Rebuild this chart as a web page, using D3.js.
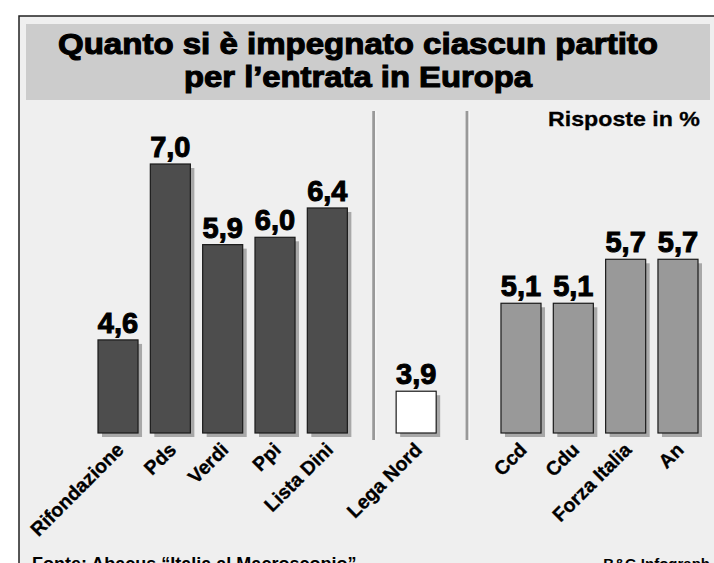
<!DOCTYPE html>
<html>
<head>
<meta charset="utf-8">
<script src="https://cdn.jsdelivr.net/npm/d3@7"></script>
<style>
  body { margin: 0; background: #fff; }
  svg text { font-family: "Liberation Sans", Arial, sans-serif; font-weight: bold; fill: #000; }
</style>
</head>
<body>
<div id="chart"></div>
<script>
// Data
var parties = ["Rifondazione", "Pds", "Verdi", "Ppi", "Lista Dini", "Lega Nord", "Ccd", "Cdu", "Forza Italia", "An"];
var values = [4.6, 7.0, 5.9, 6.0, 6.4, 3.9, 5.1, 5.1, 5.7, 5.7];
var partyGroup = ["sinistra", "sinistra", "sinistra", "sinistra", "sinistra", "lega", "destra", "destra", "destra", "destra"];
var groupNames = ["sinistra", "lega", "destra"];
var groupColors = ["#4d4d4d", "#ffffff", "#999999"];

var titleLines = ["Quanto si è impegnato ciascun partito", "per l\u2019entrata in Europa"];
var unitLabel = "Risposte in %";
var sourceLabel = "Fonte: Abacus \u201cItalia al Macroscopio\u201d";
var creditLabel = "B&G Infograph";

var width = 714, height = 563;

var svg = d3.select("#chart")
    .append("svg")
    .attr("width", width)
    .attr("height", height);

// Panel with frame
svg.append("rect")
    .attr("x", 19).attr("y", 16)
    .attr("width", 720).attr("height", 600)
    .attr("fill", "#efefef")
    .attr("stroke", "#222")
    .attr("stroke-width", 1.5);

// Title box
svg.append("rect")
    .attr("x", 26).attr("y", 24)
    .attr("width", 684).attr("height", 76)
    .attr("fill", "#cccccc");

var titleWidths = [600, 348];
titleLines.forEach(function (t, i) {
    svg.append("text")
        .attr("x", 358)
        .attr("y", 54 + i * 33)
        .attr("text-anchor", "middle")
        .attr("textLength", titleWidths[i])
        .attr("lengthAdjust", "spacingAndGlyphs")
        .style("font-size", "30px")
        .style("stroke", "#000")
        .style("stroke-width", "1.1px")
        .text(t);
});

svg.append("text")
    .attr("x", 700).attr("y", 126)
    .attr("text-anchor", "end")
    .attr("textLength", 152)
    .attr("lengthAdjust", "spacingAndGlyphs")
    .style("font-size", "21px")
    .style("stroke", "#000")
    .style("stroke-width", "0.3px")
    .text(unitLabel);

// Scales
var y = d3.scaleLinear()
    .domain([3.33, 7.0])
    .range([433, 164]);

var x = d3.scaleBand()
    .domain(parties)
    .range([98, 609])
    .paddingInner(0.235)
    .paddingOuter(0);

var groupShift = d3.scaleOrdinal()
    .domain(groupNames)
    .range([0, 36.5, 89]);

var groupFill = d3.scaleOrdinal()
    .domain(groupNames)
    .range(groupColors);

var data = parties.map(function (p, i) {
    return { name: p, value: values[i], group: partyGroup[i] };
});

function barX(d) { return x(d.name) + groupShift(d.group); }

// Separators between groups
for (var g = 1; g < groupNames.length; g++) {
    var prev = data.filter(function (d) { return d.group === groupNames[g - 1]; });
    var next = data.filter(function (d) { return d.group === groupNames[g]; });
    var sx = (barX(prev[prev.length - 1]) + x.bandwidth() + barX(next[0])) / 2 + (g === 1 ? 2 : -1.5);
    svg.append("line")
        .attr("x1", sx).attr("x2", sx)
        .attr("y1", 111).attr("y2", 440)
        .attr("stroke", "#999")
        .attr("stroke-width", 3);
    svg.append("line")
        .attr("x1", sx + 2).attr("x2", sx + 2)
        .attr("y1", 111).attr("y2", 440)
        .attr("stroke", "#fff")
        .attr("stroke-width", 1);
}

// Bar shadows
svg.selectAll(".shadow")
    .data(data)
    .enter()
    .append("rect")
    .attr("class", "shadow")
    .attr("x", function (d) { return barX(d) + 4; })
    .attr("y", function (d) { return y(d.value) + 4; })
    .attr("width", x.bandwidth())
    .attr("height", function (d) { return y.range()[0] - y(d.value); })
    .attr("fill", "#a8a8a8");

// Bars
svg.selectAll(".bar")
    .data(data)
    .enter()
    .append("rect")
    .attr("class", "bar")
    .attr("x", barX)
    .attr("y", function (d) { return y(d.value); })
    .attr("width", x.bandwidth())
    .attr("height", function (d) { return y.range()[0] - y(d.value); })
    .attr("fill", function (d) { return groupFill(d.group); })
    .attr("stroke", "#1a1a1a")
    .attr("stroke-width", 1.2);

// Value labels
svg.selectAll(".value")
    .data(data)
    .enter()
    .append("text")
    .attr("class", "value")
    .attr("x", function (d) { return barX(d) + x.bandwidth() / 2; })
    .attr("y", function (d) { return y(d.value) - 7; })
    .attr("text-anchor", "middle")
    .style("font-size", "29px")
    .style("stroke", "#000")
    .style("stroke-width", "1px")
    .text(function (d) { return d.value.toFixed(1).replace(".", ","); });

// Category labels, rotated
svg.selectAll(".cat")
    .data(data)
    .enter()
    .append("text")
    .attr("class", "cat")
    .attr("transform", function (d) {
        var cx = barX(d) + x.bandwidth() / 2 + 7;
        return "translate(" + cx + ",451) rotate(-45)";
    })
    .attr("text-anchor", "end")
    .style("font-size", "19.5px")
    .style("stroke", "#000")
    .style("stroke-width", "0.35px")
    .text(function (d) { return d.name; });

// Footer (cut by the lower edge, as in the source)
svg.append("text")
    .attr("x", 32).attr("y", 570)
    .style("font-size", "18px")
    .text(sourceLabel);

svg.append("text")
    .attr("x", 710).attr("y", 569)
    .attr("text-anchor", "end")
    .style("font-size", "15px")
    .text(creditLabel);
</script>
</body>
</html>
